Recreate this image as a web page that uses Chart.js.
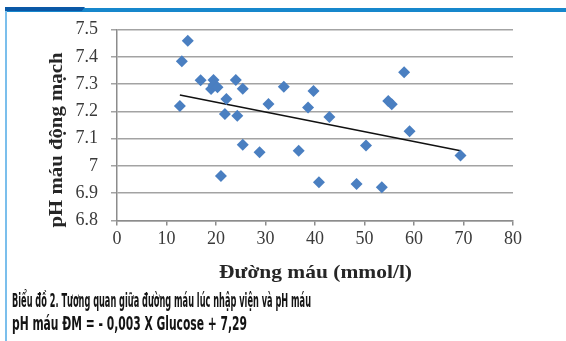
<!DOCTYPE html>
<html>
<head>
<meta charset="utf-8">
<script src="https://cdn.jsdelivr.net/npm/chart.js@4"></script>
<style>
  html, body { margin: 0; padding: 0; background: #fff; }
  #wrap { position: relative; width: 566px; height: 341px; overflow: hidden; background: #fff; }
  #chartBox { position: absolute; left: 0; top: 0; width: 566px; height: 290px; }
  .band { position: absolute; left: 5px; top: 8px; width: 561px; height: 4px; background: #1787cc; }
  .bandDark { position: absolute; left: 5px; top: 7px; width: 80px; height: 4px; background: #0a58a6;
              clip-path: polygon(0 0, 100% 0, 96% 100%, 0 100%); }
  .leftLine { position: absolute; left: 5px; top: 11px; width: 2px; height: 330px; background: #7bbfec; }
  .cap { position: absolute; left: 12px; font-family: "Liberation Sans Narrow", "DejaVu Sans Condensed", "Liberation Sans", sans-serif;
         font-size: 19px; line-height: 19px; font-weight: bold; color: #141414; white-space: nowrap; }
  .cap span { display: inline-block; transform-origin: 0 50%; }
</style>
</head>
<body>
<div id="wrap">
  <div id="chartBox"><canvas id="chart"></canvas></div>
  <div class="band"></div>
  <div class="bandDark"></div>
  <div class="leftLine"></div>
  <div class="cap" style="top:291px"><span id="cap1" data-w="299">Biểu đồ 2. Tương quan giữa đường máu lúc nhập viện và pH máu</span></div>
  <div class="cap" style="top:314px"><span id="cap2" data-w="235">pH máu ĐM = - 0,003 X Glucose + 7,29</span></div>
</div>
<script>
// Dữ liệu: đường máu (mmol/l) và pH máu động mạch
const glucose = [14.3, 13.1, 12.7, 16.9, 19.5, 19.0, 19.5, 20.3, 24.0, 25.4,
                 22.1, 21.8, 24.3, 30.6, 33.7, 38.6, 39.7, 25.4, 28.8, 21.0,
                 36.7, 40.8, 42.9, 58.0, 54.8, 55.5, 59.1, 50.3, 48.4, 53.5, 69.4];
const phValues = [7.459, 7.384, 7.220, 7.314, 7.315, 7.282, 7.297, 7.288, 7.315, 7.283,
                  7.245, 7.190, 7.184, 7.227, 7.290, 7.214, 7.275, 7.078, 7.050, 6.963,
                  7.056, 6.940, 7.179, 7.343, 7.238, 7.226, 7.127, 7.075, 6.934, 6.922, 7.038];

// Đường xu hướng (hai đầu mút)
const trendX = [12.7, 69.4];
const trendY = [7.26, 7.056];

const xTicks = [0, 10, 20, 30, 40, 50, 60, 70, 80];
const yTicks = [6.8, 6.9, 7.0, 7.1, 7.2, 7.3, 7.4, 7.5];

const xTitle = 'Đường máu (mmol/l)';
const yTitle = 'pH máu động mạch';

const points = glucose.map((g, i) => ({ x: g, y: phValues[i] }));
const trend = trendX.map((t, i) => ({ x: t, y: trendY[i] }));

// Vẽ tiêu đề trục (kéo giãn ngang cho giống bản gốc)
const axisTitles = {
    id: 'axisTitles',
    afterDraw(chart) {
        const ctx = chart.ctx;
        ctx.save();
        ctx.fillStyle = '#262626';
        ctx.font = 'bold 19px "Liberation Serif", "Times New Roman", serif';
        ctx.textAlign = 'center';
        ctx.textBaseline = 'alphabetic';

        // trục x
        let w = ctx.measureText(xTitle).width;
        ctx.save();
        ctx.translate(315.5, 278);
        ctx.scale(193 / w, 1);
        ctx.fillText(xTitle, 0, 0);
        ctx.restore();

        // trục y
        w = ctx.measureText(yTitle).width;
        ctx.save();
        ctx.translate(62, 140);
        ctx.rotate(-Math.PI / 2);
        ctx.scale(175 / w, 1);
        ctx.fillText(yTitle, 0, 0);
        ctx.restore();
        ctx.restore();
    }
};

new Chart(document.getElementById('chart'), {
    type: 'scatter',
    data: {
        datasets: [{
            data: points,
            pointStyle: 'rectRot',
            pointRadius: 6,
            pointHoverRadius: 6,
            backgroundColor: '#4a7fc1',
            borderColor: '#4a7fc1',
            borderWidth: 0
        }, {
            type: 'line',
            data: trend,
            borderColor: '#111',
            borderWidth: 1.5,
            pointRadius: 0,
            fill: false
        }]
    },
    options: {
        responsive: true,
        maintainAspectRatio: false,
        animation: false,
        events: [],
        layout: { padding: { top: 29.5, right: 53, left: 0, bottom: 0 } },
        plugins: { legend: { display: false }, tooltip: { enabled: false } },
        scales: {
            x: {
                type: 'linear',
                min: 0, max: 80,
                afterFit: (s) => { s.height = 69.5; },
                afterBuildTicks: (s) => { s.ticks = xTicks.map(v => ({ value: v })); },
                ticks: {
                    color: '#3a3a3a',
                    padding: 3,
                    font: { family: '"Liberation Serif", "Times New Roman", serif', size: 18 }
                },
                grid: { drawOnChartArea: false, drawTicks: true, tickLength: 5, color: '#8c8c8c', lineWidth: 1.5 },
                border: { color: '#8c8c8c', width: 1.5 }
            },
            y: {
                type: 'linear',
                min: 6.8, max: 7.5,
                afterFit: (s) => { s.width = 117; },
                afterBuildTicks: (s) => { s.ticks = yTicks.map(v => ({ value: v })); },
                ticks: {
                    color: '#3a3a3a',
                    padding: 13,
                    callback: (v) => String(Number(v.toFixed(1))),
                    font: { family: '"Liberation Serif", "Times New Roman", serif', size: 18 }
                },
                grid: { color: '#a3a3a3', lineWidth: 1.5, tickLength: 6 },
                border: { color: '#8c8c8c', width: 1.5 }
            }
        }
    },
    plugins: [axisTitles]
});

// Co ngang từng dòng chú thích cho khớp độ rộng
document.querySelectorAll('.cap span').forEach(el => {
    const target = Number(el.dataset.w);
    const w = el.getBoundingClientRect().width;
    if (w > 0) el.style.transform = 'scaleX(' + (target / w) + ')';
});
</script>
</body>
</html>
